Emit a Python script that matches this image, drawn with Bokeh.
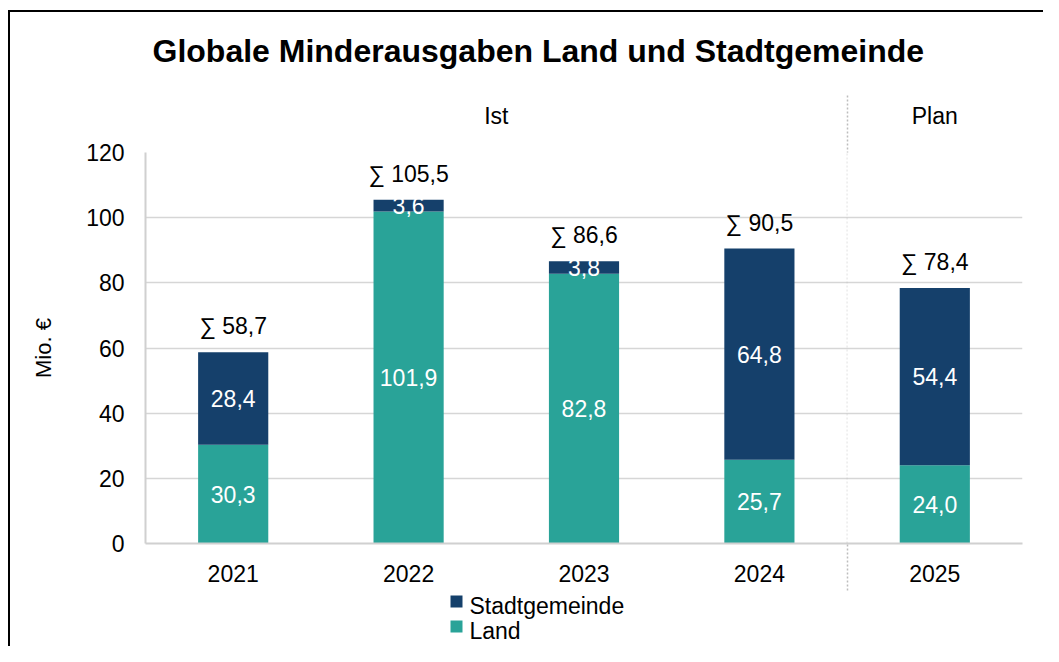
from bokeh.plotting import figure
from bokeh.models import (ColumnDataSource, Range1d, FixedTicker, LinearAxis, Grid,
                          PolyAnnotation, InlineStyleSheet)
from bokeh.core.properties import value
from bokeh.embed import file_html
from bokeh.resources import INLINE

# ---- data ----
years = ["2021", "2022", "2023", "2024", "2025"]
land = [30.3, 101.9, 82.8, 25.7, 24.0]
stadt = [28.4, 3.6, 3.8, 64.8, 54.4]
y_ticks = [0, 20, 40, 60, 80, 100, 120]
title_text = "Globale Minderausgaben Land und Stadtgemeinde"
group_labels = ["Ist", "Plan"]
series_names = ["Stadtgemeinde", "Land"]
n_ist = 4  # number of "Ist" years

FONT = "Liberation Sans"
NAVY = "#15406B"
TEAL = "#29A398"
GRID = "#D6D6D6"
SEP = "#BDBDBD"

def fmt(v):
    return f"{v:.1f}".replace(".", ",")

n = len(years)
centers = [i + 0.5 for i in range(n)]
totals = [a + b for a, b in zip(land, stadt)]
src = ColumnDataSource(dict(
    xc=centers, land=land, stadt=stadt,
    land_mid=[a / 2 for a in land],
    stadt_mid=[a + b / 2 for a, b in zip(land, stadt)],
    total=totals,
    land_txt=[fmt(v) for v in land],
    stadt_txt=[fmt(v) for v in stadt],
    total_txt=["\u2211 " + fmt(v) for v in totals],
))

p = figure(x_range=Range1d(0, n), y_range=Range1d(0, 120),
           width=1043, height=646, output_backend="svg", toolbar_location=None,
           x_axis_location=None,
           min_border_left=145, min_border_right=21, min_border_top=150, min_border_bottom=103)
p.stylesheets = [InlineStyleSheet(css=(
    ":host { position: relative; }"
    ":host::after { content: ''; position: absolute; left: 8px; top: 10px; right: 0; bottom: 0;"
    " border-left: 2px solid #000; border-top: 2px solid #000; pointer-events: none; z-index: 5; }"))]
p.outline_line_color = None
p.background_fill_color = "white"
p.border_fill_color = "white"

r_land, r_stadt = p.vbar_stack(["land", "stadt"], x="xc", width=0.4, color=[TEAL, NAVY],
                               line_color=None, source=src)

def base_axis(ax, standoff):
    ax.axis_line_color = None
    ax.major_tick_line_color = None
    ax.major_tick_out = 0
    ax.major_label_text_font = FONT
    ax.major_label_text_font_size = "23px"
    ax.major_label_text_color = "black"
    ax.major_label_standoff = standoff

# ---- x axis (below) with year labels and lower part of separator ----
xax = LinearAxis(ticker=FixedTicker(ticks=centers, minor_ticks=[n_ist]),
                 major_label_overrides={c: y for c, y in zip(centers, years)})
base_axis(xax, -26)
xax.axis_line_color = "#D0D0D0"
xax.axis_line_width = 2
xax.minor_tick_in = 0
xax.minor_tick_out = 47
xax.minor_tick_line_color = SEP
xax.minor_tick_line_width = 1.5
xax.minor_tick_line_dash = "2 2"
p.add_layout(xax, "below")

# ---- legend rows (below the year labels): colour square + series name ----
sq_x = 1.773                       # square centre (x in plot units)
lab_x = {"Stadtgemeinde": 2.288, "Land": 1.993}
leg_specs = [("Stadtgemeinde", NAVY, -11, 23, -15), ("Land", TEAL, 1, 11, -15)]
for name, col, t_in, t_out, so in leg_specs:
    lx = lab_x[name]
    ax = LinearAxis(ticker=FixedTicker(ticks=[lx], minor_ticks=[sq_x]),
                    major_label_overrides={lx: name})
    base_axis(ax, so)
    ax.minor_tick_in = t_in
    ax.minor_tick_out = t_out
    ax.minor_tick_line_color = col
    ax.minor_tick_line_width = 12
    ax.minor_tick_line_cap = "butt"
    p.add_layout(ax, "below")

# ---- group axis (above): "Ist" / "Plan" and upper part of separator ----
g_pos = [n_ist / 2, n_ist + (n - n_ist) / 2]
gax = LinearAxis(ticker=FixedTicker(ticks=g_pos, minor_ticks=[n_ist]),
                 major_label_overrides={g: t for g, t in zip(g_pos, group_labels)})
base_axis(gax, -33)
gax.minor_tick_in = 0
gax.minor_tick_out = 57
gax.minor_tick_line_color = SEP
gax.minor_tick_line_width = 1.5
gax.minor_tick_line_dash = "2 2"
p.add_layout(gax, "above")

# ---- y axis ----
p.yaxis.ticker = FixedTicker(ticks=y_ticks)
p.yaxis.axis_line_color = "#D0D0D0"
p.yaxis.axis_line_width = 2
p.yaxis.major_tick_line_color = None
p.yaxis.minor_tick_line_color = None
p.yaxis.major_label_text_font = FONT
p.yaxis.major_label_text_font_size = "23px"
p.yaxis.major_label_text_color = "black"
p.yaxis.major_label_standoff = 15
p.yaxis.axis_label = "Mio. \u20ac"
p.yaxis.axis_label_text_font = FONT
p.yaxis.axis_label_text_font_size = "22px"
p.yaxis.axis_label_text_font_style = "normal"
p.yaxis.axis_label_text_color = "black"
p.yaxis.axis_label_standoff = 27
p.ygrid.grid_line_color = GRID
p.ygrid.grid_line_width = 1.5
for r in p.center:
    if isinstance(r, Grid) and r.dimension == 0:
        r.grid_line_color = None

# separator inside the plot area
p.add_layout(PolyAnnotation(xs=[n_ist, n_ist], ys=[0, 120], line_color=SEP,
                            line_width=1.5, line_dash="2 2", fill_alpha=0))

# ---- value labels ----
p.text(x="xc", y="land_mid", text="land_txt", source=src, text_color="white",
       text_font=value(FONT), text_font_size="23px", text_align="center",
       text_baseline="middle")
p.text(x="xc", y="stadt_mid", text="stadt_txt", source=src, text_color="white",
       text_font=value(FONT), text_font_size="23px", text_align="center",
       text_baseline="middle")
p.text(x="xc", y="total", text="total_txt", source=src, text_color="black",
       text_font=value(FONT), text_font_size="23px", text_align="center",
       text_baseline="alphabetic", y_offset=-26)

# ---- title ----
p.title.text = title_text
p.title.align = "left"
p.title.offset = 7
p.title.standoff = 61
p.title.text_font = FONT
p.title.text_font_size = "32px"
p.title.text_font_style = "bold"
p.title.text_color = "black"

open("out.html", "w").write(file_html(p, INLINE))
